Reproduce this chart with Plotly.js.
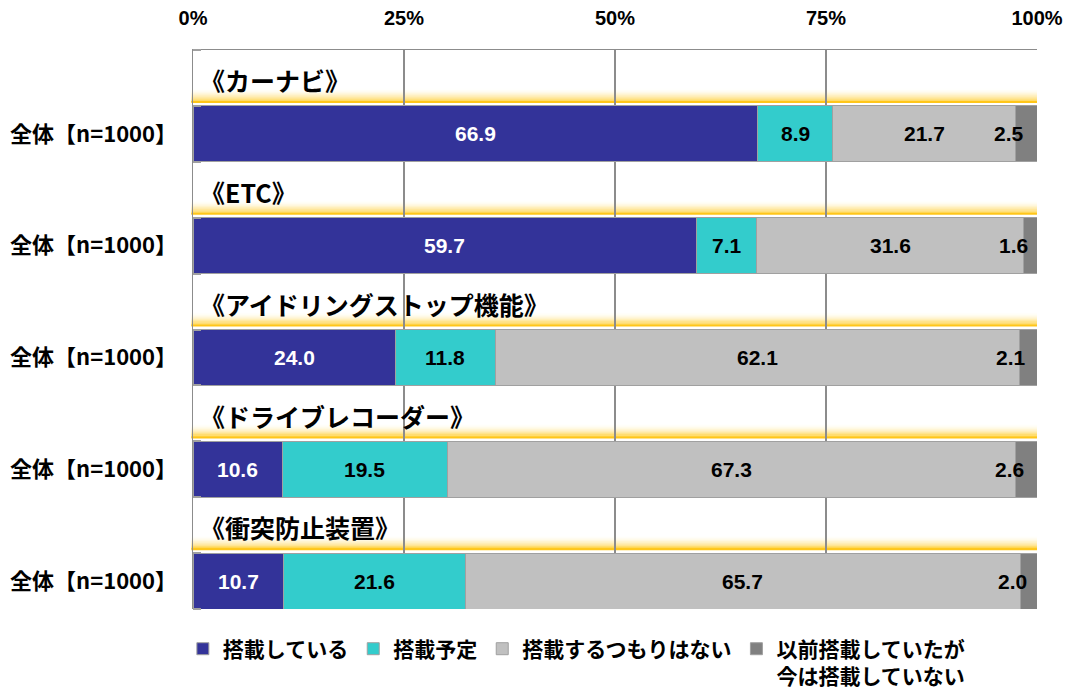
<!DOCTYPE html>
<html>
<head>
<meta charset="utf-8">
<script src="https://cdn.plot.ly/plotly-3.0.1.min.js"></script>
<style>html,body{margin:0;padding:0;background:#fff;}#chart{width:1068px;height:695px;}</style>
</head>
<body>
<div id="chart"></div>
<script>
// ---- data ----
const categories = ["《カーナビ》", "《ETC》", "《アイドリングストップ機能》", "《ドライブレコーダー》", "《衝突防止装置》"];
const rowLabel = "全体【n=1000】";
const seriesNames = ["搭載している", "搭載予定", "搭載するつもりはない", "以前搭載していたが<br>今は搭載していない"];
const installed     = [66.9, 59.7, 24.0, 10.6, 10.7];
const planned       = [8.9, 7.1, 11.8, 19.5, 21.6];
const notPlanned    = [21.7, 31.6, 62.1, 67.3, 65.7];
const formerly      = [2.5, 1.6, 2.1, 2.6, 2.0];
const xTickVals = [0, 25, 50, 75, 100];
const xTickText = ["0%", "25%", "50%", "75%", "100%"];

// ---- styles ----
const colors = ["#333399", "#33CCCC", "#C0C0C0", "#808080"];
const labelColors = ["#ffffff", "#000000", "#000000", "#000000"];
const jp = "'Noto Sans CJK JP', 'Noto Sans', sans-serif";
const num = "'Liberation Sans', Arial, sans-serif";

const series = [installed, planned, notPlanned, formerly];
const barPos = categories.map((c, i) => i + 0.75);
const headerPos = categories.map((c, i) => i + 0.27);
const linePos = categories.map((c, i) => i + 0.465);

const traces = series.map((vals, j) => ({
  type: "bar",
  orientation: "h",
  name: seriesNames[j],
  x: vals,
  y: barPos,
  width: 0.5,
  marker: {color: colors[j], line: {color: "#a0a0a0", width: 1}},
  hoverinfo: "x+name"
}));

const annotations = [];
categories.forEach((c, i) => {
  let cum = 0;
  series.forEach((vals, j) => {
    const v = vals[i];
    const last = j === series.length - 1;
    annotations.push({
      xref: "x", yref: "y",
      x: cum + v / 2, y: barPos[i],
      text: v.toFixed(1),
      showarrow: false,
      xanchor: last ? "right" : "center",
      font: {family: num, size: 21, color: labelColors[j], weight: "bold"}
    });
    cum += v;
  });
  annotations.push({
    xref: "x", yref: "y",
    x: 0, y: headerPos[i],
    text: "<b>" + c + "</b>",
    showarrow: false,
    xanchor: "left",
    xshift: 5,
    font: {family: jp, size: 25, color: "#000"}
  });
});

// yellow gradient header lines
const shapes = [];
const steps = 12;
const gradH = 0.12;
categories.forEach((c, i) => {
  for (let s = 0; s < steps; s++) {
    const t = (s + 1) / steps;
    shapes.push({
      type: "rect", layer: "below",
      xref: "paper", yref: "y",
      x0: -0.002, x1: 1,
      y0: linePos[i] - gradH * (1 - s / steps),
      y1: linePos[i] - gradH * (1 - (s + 1) / steps),
      line: {width: 0},
      fillcolor: "rgba(255,204,40," + (t * t * 0.95).toFixed(3) + ")"
    });
  }
  shapes.push({
    type: "line", layer: "below",
    xref: "paper", yref: "y",
    x0: -0.002, x1: 1, y0: linePos[i], y1: linePos[i],
    line: {color: "#FFC61A", width: 2}
  });
});

const layout = {
  width: 1068, height: 695,
  margin: {l: 193, r: 31, t: 50, b: 86, autoexpand: false},
  paper_bgcolor: "#ffffff",
  plot_bgcolor: "#ffffff",
  barmode: "stack",
  bargap: 0,
  showlegend: true,
  legend: {
    orientation: "h",
    x: -0.012, xanchor: "left",
    y: -0.035, yanchor: "top",
    valign: "top",
    traceorder: "normal",
    font: {family: jp, size: 21, color: "#000", weight: "bold"},
    itemwidth: 30,
    tracegroupgap: 0
  },
  xaxis: {
    side: "top",
    range: [0, 100],
    tickvals: xTickVals,
    ticktext: xTickText,
    showgrid: true,
    gridcolor: "#8c8c8c",
    gridwidth: 1.5,
    zeroline: false,
    showline: true,
    linecolor: "#8c8c8c",
    linewidth: 1.5,
    ticks: "",
    ticklabelstandoff: 16,
    tickfont: {family: num, size: 20, color: "#000", weight: "bold"},
    fixedrange: true
  },
  yaxis: {
    range: [5, 0],
    tickvals: barPos,
    ticktext: barPos.map(() => rowLabel),
    showgrid: false,
    zeroline: false,
    showline: true,
    linecolor: "#8c8c8c",
    linewidth: 1.5,
    ticks: "",
    ticklabelstandoff: 10,
    tickfont: {family: jp, size: 22, color: "#000", weight: "bold"},
    minor: {tick0: 0, dtick: 0.5, ticks: "inside", ticklen: 8, tickcolor: "#a0a0a0", tickwidth: 2, showgrid: false},
    fixedrange: true
  },
  annotations: annotations,
  shapes: shapes
};

Plotly.newPlot("chart", traces, layout, {displayModeBar: false, staticPlot: true});
</script>
</body>
</html>
